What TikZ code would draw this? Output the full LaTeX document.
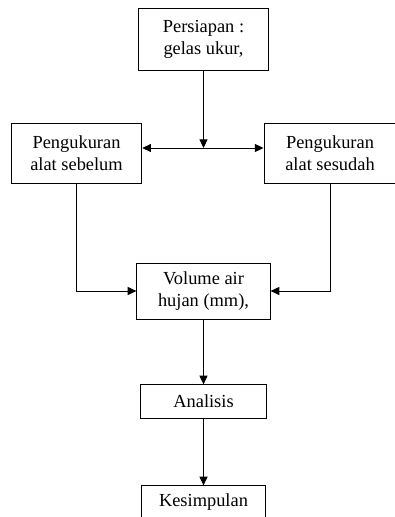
\documentclass[tikz,border=0pt]{standalone}
\usepackage{fontspec}
\setmainfont{Liberation Serif}
\usetikzlibrary{arrows.meta}

\tikzset{
  box/.style={draw, line width=0.7pt, align=center, inner sep=0pt,
    font=\fontsize{13.8}{16.5}\selectfont},
  arr/.style={-{Triangle[length=6.5pt,width=6pt]}, line width=0.7pt}
}

\begin{document}
\begin{tikzpicture}[x=0.75pt,y=-0.75pt]
\useasboundingbox (0,0) rectangle (394,517);

\node[box, minimum width=98pt, minimum height=46.5pt] (prep) at (203.5,39) {Persiapan :\\gelas ukur,};
\node[box, minimum width=98pt, minimum height=45pt] (before) at (76.5,153) {Pengukuran\\alat sebelum};
\node[box, minimum width=99pt, minimum height=45pt] (after) at (330,153) {Pengukuran\\alat sesudah};
\node[box, minimum width=100pt, minimum height=42pt] (vol) at (203.5,291) {Volume air\\hujan (mm),};
\node[box, minimum width=94pt, minimum height=25pt] (ana) at (203.5,401.5) {Analisis};
\node[box, minimum width=93pt, minimum height=25pt] (kes) at (203.5,502.5) {Kesimpulan};

\coordinate (mid) at (203.5,148);
\draw[arr] (prep.south) -- (mid);
\draw[arr] (mid) -- (mid -| before.east);
\draw[arr] (mid) -- (mid -| after.west);

\draw[arr] (before.south) |- (vol.west);
\draw[arr] (after.south) |- (vol.east);

\draw[arr] (vol.south) -- (ana.north);
\draw[arr] (ana.south) -- (kes.north);
\end{tikzpicture}
\end{document}
